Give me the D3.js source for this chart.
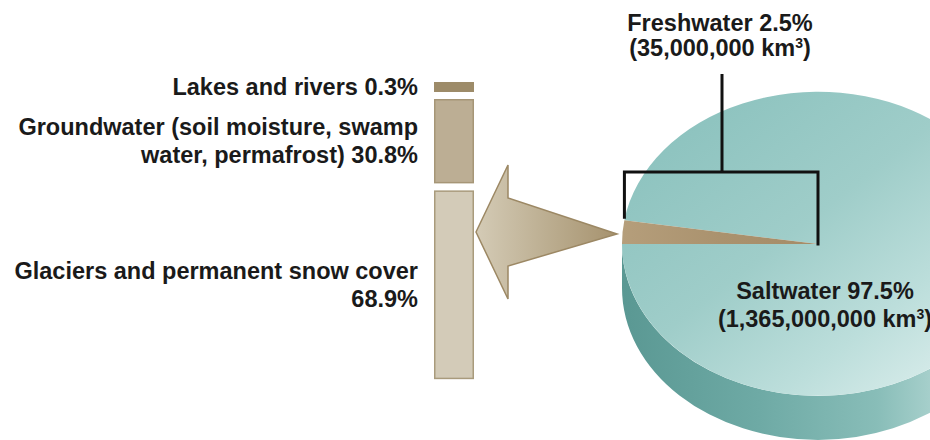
<!DOCTYPE html>
<html>
<head>
<meta charset="utf-8">
<script src="https://cdn.jsdelivr.net/npm/d3@7"></script>
<style>
  html, body { margin: 0; padding: 0; background: #ffffff; overflow: hidden; }
  svg { display: block; }
  text { font-family: "Liberation Sans", Arial, Helvetica, sans-serif; font-weight: bold; fill: #1a1a1a; }
</style>
</head>
<body>
<svg id="chart" width="930" height="440"></svg>
<script>
// ---------- data ----------
const freshCategories = ["Lakes and rivers", "Groundwater", "Glaciers and permanent snow cover"];
const freshShares = [0.3, 30.8, 68.9];
const freshLabelLines = [
  ["Lakes and rivers 0.3%"],
  ["Groundwater (soil moisture, swamp", "water, permafrost) 30.8%"],
  ["Glaciers and permanent snow cover", "68.9%"]
];
const waterTypes = ["Freshwater", "Saltwater"];
const waterShares = [2.5, 97.5];
const waterVolumes = ["35,000,000", "1,365,000,000"];

// ---------- setup ----------
const W = 930, H = 440;
const svg = d3.select("#chart");
const defs = svg.append("defs");

function linGrad(id, x1, y1, x2, y2, stops, units) {
  const g = defs.append("linearGradient").attr("id", id)
    .attr("x1", x1).attr("y1", y1).attr("x2", x2).attr("y2", y2);
  if (units) g.attr("gradientUnits", units);
  stops.forEach(s => g.append("stop").attr("offset", s[0]).attr("stop-color", s[1]));
}

// ---------- pie geometry ----------
const cx = 818, cy = 244, rx = 196, ry = 152, depth = 44;

linGrad("sideGrad", 622, 0, 1014, 0, [[0, "#5a9893"], [0.35, "#6eaaa5"], [0.65, "#88bdb8"], [0.8, "#a9d1cd"], [1, "#d6ebe9"]], "userSpaceOnUse");
linGrad("topGrad", "0%", "0%", "100%", "100%", [[0, "#86bfbb"], [0.45, "#9fcdc9"], [0.7, "#bcdedb"], [1, "#e8f4f3"]]);
linGrad("freshGrad", "0%", "0%", "100%", "0%", [[0, "#b59e7b"], [0.5, "#aa926e"], [1, "#a58c68"]]);
linGrad("arrowGrad", "0%", "0%", "100%", "0%", [[0, "#d4cbb6"], [0.5, "#bcae91"], [1, "#a6926e"]]);

// side (extrusion)
svg.append("path")
  .attr("d", `M${cx - rx},${cy} A${rx},${ry} 0 0 0 ${cx + rx},${cy} L${cx + rx},${cy + depth} A${rx},${ry} 0 0 1 ${cx - rx},${cy + depth} Z`)
  .attr("fill", "url(#sideGrad)");

// top face slices
const pie = d3.pie().sort(null).startAngle(1.5 * Math.PI).endAngle(3.5 * Math.PI);
const arcs = pie(waterShares);
const arcGen = d3.arc().innerRadius(0).outerRadius(1);
const pieG = svg.append("g").attr("transform", `translate(${cx},${cy}) scale(${rx},${ry})`);
pieG.selectAll("path").data(arcs).join("path")
  .attr("d", arcGen)
  .attr("fill", (d, i) => i === 0 ? "url(#freshGrad)" : "url(#topGrad)");
pieG.selectAll("path").filter((d, i) => i === 0).raise();

// point on ellipse for an arc angle
function ellPt(a) { return [cx + rx * Math.sin(a), cy - ry * Math.cos(a)]; }
const fresh = arcs[0];
const freshTop = ellPt(fresh.endAngle);
const freshLeft = ellPt(fresh.startAngle);

// bracket
const brY = 172, stemX = 722, stemTop = 74;
const bracket = svg.append("g").attr("stroke", "#111").attr("stroke-width", 3).attr("fill", "none");
bracket.append("path")
  .attr("d", `M${freshTop[0]},${freshTop[1] - 3} V${brY} H${cx} V${cy}`)
  .attr("stroke-linejoin", "miter").attr("stroke-linecap", "square");
bracket.append("line").attr("x1", stemX).attr("x2", stemX).attr("y1", stemTop).attr("y2", brY);

// pie labels
const fl = svg.append("text").attr("text-anchor", "middle").attr("font-size", "23.5px");
fl.append("tspan").attr("x", 720).attr("y", 31).text(`${waterTypes[0]} ${waterShares[0]}%`);
fl.append("tspan").attr("x", 720).attr("y", 56).text(`(${waterVolumes[0]} km`);
fl.append("tspan").attr("font-size", "14px").attr("dy", -8).text("3");
fl.append("tspan").attr("dy", 8).text(")");

const sl = svg.append("text").attr("text-anchor", "middle").attr("font-size", "23.5px");
sl.append("tspan").attr("x", 825).attr("y", 299).text(`${waterTypes[1]} ${waterShares[1]}%`);
sl.append("tspan").attr("x", 825).attr("y", 327).text(`(${waterVolumes[1]} km`);
sl.append("tspan").attr("font-size", "14px").attr("dy", -8).text("3");
sl.append("tspan").attr("dy", 8).text(")");

// ---------- freshwater breakdown bars ----------
const barX = 434, barW = 40, barTop = 82, gap = 7, minH = 10;
const hScale = d3.scaleLinear().domain([0, 100]).range([0, 274]);
let yCursor = barTop;
const bars = freshShares.map((v, i) => {
  const h = Math.max(minH, hScale(v));
  const b = { y: yCursor, h, v, i };
  yCursor += h + gap;
  return b;
});
const barFills = ["#9d8b69", "#bcae94", "#d3cbb8"];
const barStrokes = ["#9d8b69", "#a69677", "#a99b7c"];
svg.selectAll("rect.bar").data(bars).join("rect")
  .attr("class", "bar")
  .attr("x", barX + 0.75).attr("width", barW - 1.5)
  .attr("y", d => d.y + 0.75).attr("height", d => d.h - 1.5)
  .attr("fill", (d, i) => barFills[i])
  .attr("stroke", (d, i) => barStrokes[i]).attr("stroke-width", 1.5);

// labels
const lineH = 28;
bars.forEach((b, i) => {
  const lines = freshLabelLines[i];
  const mid = b.y + b.h / 2;
  const firstBase = mid + 8 - (lines.length - 1) * lineH / 2;
  const t = svg.append("text").attr("text-anchor", "end").attr("font-size", "23.5px");
  lines.forEach((ln, j) => t.append("tspan").attr("x", 418).attr("y", firstBase + j * lineH).text(ln));
});

// ---------- arrow from pie wedge to bars ----------
const tipX = barX + barW + 2, tipY = 232;
const endX = freshLeft[0] - 5, endY = 234;
const headX = tipX + 32, headHalf = 67, shaftHalf = 34;
svg.append("path")
  .attr("d", `M${tipX},${tipY} L${headX},${tipY - headHalf} L${headX},${tipY - shaftHalf} L${endX},${endY} L${headX},${tipY + shaftHalf} L${headX},${tipY + headHalf} Z`)
  .attr("fill", "url(#arrowGrad)")
  .attr("stroke", "#9c8864").attr("stroke-width", 1.5).attr("stroke-linejoin", "miter");
</script>
</body>
</html>
